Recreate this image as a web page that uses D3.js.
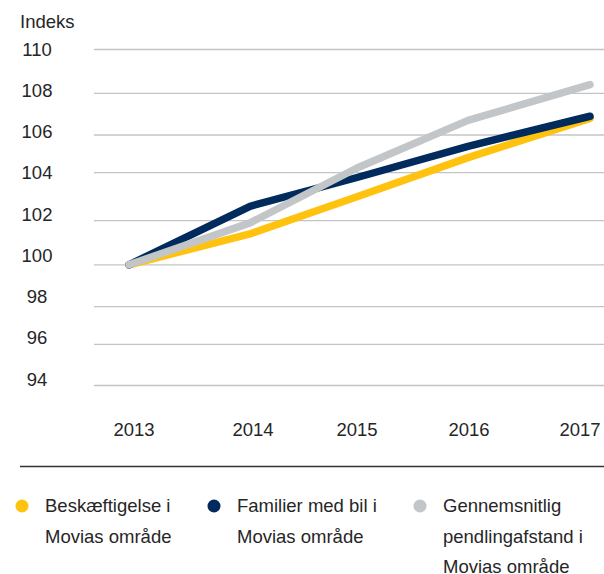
<!DOCTYPE html>
<html>
<head>
<meta charset="utf-8">
<script src="https://cdn.jsdelivr.net/npm/d3@7"></script>
<style>
  body { margin: 0; background: #fff; }
  text { font-family: "Liberation Sans", Arial, sans-serif; fill: #262626; }
</style>
</head>
<body>
<div id="chart"></div>
<script>
// Data
const years = [2013, 2014, 2015, 2016, 2017];
const yTicks = [94, 96, 98, 100, 102, 104, 106, 108, 110];
const beskaeftigelse = [100, 101.4, 103.0, 104.8, 106.8];
const familierMedBil = [100, 102.6, 103.8, 105.4, 106.9];
const pendlingafstand = [100, 101.9, 104.25, 106.7, 108.4];
const seriesNames = [
    ["Beskæftigelse i", "Movias område"],
    ["Familier med bil i", "Movias område"],
    ["Gennemsnitlig", "pendlingafstand i", "Movias område"]
];
const seriesColors = ["#ffc20e", "#002b5c", "#c3c6c9"];

function createChart() {
    const width = 604, height = 574;
    const fontSize = "18.5px";
    const svg = d3.select("#chart").append("svg")
        .attr("width", width)
        .attr("height", height);

    // Scales (grid and labels are not evenly spaced in the original)
    const xScale = d3.scaleLinear()
        .domain(years)
        .range([129, 250, 357, 468, 590]);
    const xLabel = d3.scaleLinear()
        .domain(years)
        .range([134, 253, 357, 469, 580]);
    const yScale = d3.scaleLinear()
        .domain(yTicks)
        .range([385.5, 344.3, 306.7, 264.8, 220.7, 172.7, 135, 93.3, 49.5]);
    const yLabel = d3.scaleLinear()
        .domain([94, 110])
        .range([379, 49]);

    // Gridlines
    svg.append("g").selectAll("line")
        .data(yTicks)
        .enter()
        .append("line")
        .attr("x1", 94)
        .attr("x2", width)
        .attr("y1", d => yScale(d))
        .attr("y2", d => yScale(d))
        .style("stroke", "#c4c4c4")
        .style("stroke-width", 1.3);

    // Y labels
    svg.append("g").selectAll("text")
        .data(yTicks)
        .enter()
        .append("text")
        .attr("x", 37)
        .attr("y", d => yLabel(d))
        .attr("dy", "0.36em")
        .attr("text-anchor", "middle")
        .style("font-size", fontSize)
        .text(d => d);

    svg.append("text")
        .attr("x", 20)
        .attr("y", 28)
        .style("font-size", fontSize)
        .text("Indeks");

    // X labels
    svg.append("g").selectAll("text")
        .data(years)
        .enter()
        .append("text")
        .attr("x", d => xLabel(d))
        .attr("y", 436)
        .attr("text-anchor", "middle")
        .style("font-size", fontSize)
        .text(d => d);

    // Lines
    const line = d3.line()
        .x((d, i) => xScale(years[i]))
        .y(d => yScale(d));

    [beskaeftigelse, familierMedBil, pendlingafstand].forEach((values, i) => {
        svg.append("path")
            .datum(values)
            .attr("d", line)
            .style("fill", "none")
            .style("stroke", seriesColors[i])
            .style("stroke-width", 7.5)
            .style("stroke-linecap", "round")
            .style("stroke-linejoin", "round");
    });

    // Separator
    svg.append("line")
        .attr("x1", 20)
        .attr("x2", width)
        .attr("y1", 466.5)
        .attr("y2", 466.5)
        .style("stroke", "#333")
        .style("stroke-width", 1.3);

    // Legend
    const legendX = [22, 214, 420];
    const legend = svg.append("g").selectAll("g")
        .data(seriesNames)
        .enter()
        .append("g")
        .attr("transform", (d, i) => `translate(${legendX[i]}, 0)`);

    legend.append("circle")
        .attr("cx", 0)
        .attr("cy", 506)
        .attr("r", 6.5)
        .style("fill", (d, i) => seriesColors[i]);

    legend.each(function(d) {
        d3.select(this).selectAll("text")
            .data(d)
            .enter()
            .append("text")
            .attr("x", 23)
            .attr("y", (t, j) => 512 + j * 30.5)
            .style("font-size", fontSize)
            .text(t => t);
    });
}

createChart();
</script>
</body>
</html>
